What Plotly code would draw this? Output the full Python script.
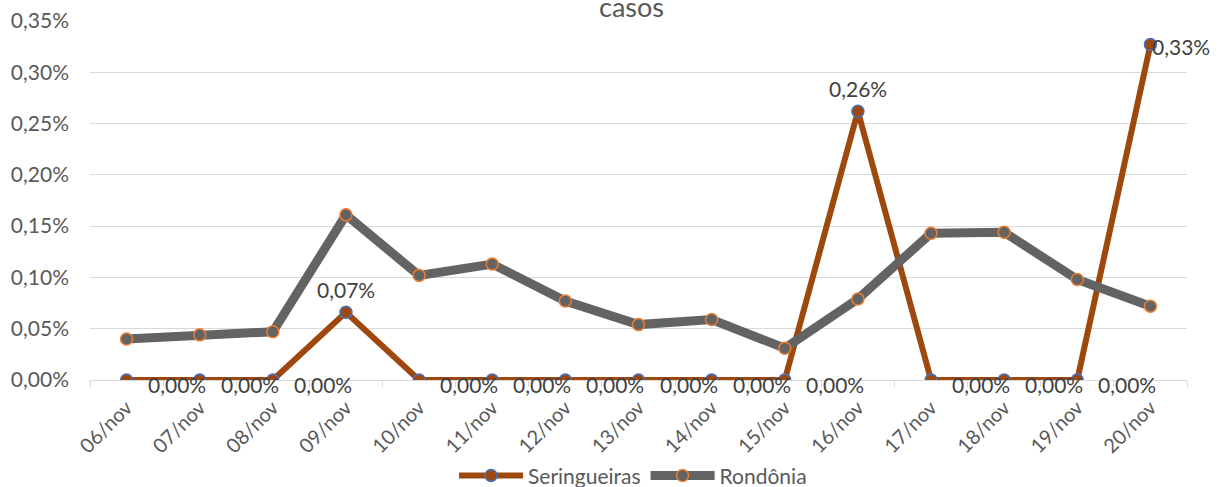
import plotly.graph_objects as go

categories = ["06/nov", "07/nov", "08/nov", "09/nov", "10/nov", "11/nov", "12/nov",
              "13/nov", "14/nov", "15/nov", "16/nov", "17/nov", "18/nov", "19/nov", "20/nov"]
seringueiras = [0.0, 0.0, 0.0, 0.00066, 0.0, 0.0, 0.0, 0.0, 0.0, 0.0, 0.00262, 0.0, 0.0, 0.0, 0.00327]
rondonia = [0.00040, 0.00044, 0.00047, 0.00161, 0.00102, 0.00113, 0.00077, 0.00054, 0.00059,
            0.00031, 0.00079, 0.00143, 0.00144, 0.00098, 0.00072]
y_ticks = [0.0, 0.0005, 0.001, 0.0015, 0.002, 0.0025, 0.003, 0.0035]

# label placement style for the Seringueiras series
label_pos = ["right", "right", "right", "above", "right", "right", "right", "right",
             "right", "right", "above", "right", "right", "right", "edge"]

FONT = "Lato"
fig = go.Figure()
fig.add_trace(go.Scatter(
    x=categories, y=seringueiras, name="Seringueiras", mode="lines+markers",
    line=dict(color="#9E480E", width=6),
    marker=dict(size=12, color="#9E480E", line=dict(color="#4472C4", width=1.5)),
))
fig.add_trace(go.Scatter(
    x=categories, y=rondonia, name="Rondônia", mode="lines+markers",
    line=dict(color="#636363", width=9),
    marker=dict(size=12, color="#636363", line=dict(color="#ED7D31", width=1.5)),
))

annotations = []
for c, v, p in zip(categories, seringueiras, label_pos):
    txt = ("%.2f%%" % (v * 100)).replace(".", ",")
    if p == "above":
        annotations.append(dict(x=c, y=v, text=txt, showarrow=False, xanchor="center",
                                yanchor="bottom", yshift=8,
                                font=dict(family=FONT, size=21, color="#404040")))
    elif p == "edge":
        annotations.append(dict(x=c, y=v, text=txt, showarrow=False, xanchor="left",
                                yanchor="middle", xshift=0, yshift=-2,
                                font=dict(family=FONT, size=21, color="#404040")))
    else:
        annotations.append(dict(x=c, y=v, text=txt, showarrow=False, xanchor="left",
                                yanchor="middle", xshift=19, yshift=-4,
                                font=dict(family=FONT, size=21, color="#404040")))

annotations.append(dict(xref="paper", yref="paper", x=0.494, y=1.0, xanchor="center",
                        yanchor="bottom", yshift=-4, text="casos", showarrow=False,
                        font=dict(family=FONT, size=27, color="#595959")))

fig.update_layout(
    width=1222, height=487,
    margin=dict(l=90, r=35, t=21, b=107, autoexpand=False),
    paper_bgcolor="white", plot_bgcolor="white",
    separators=",.",
    font=dict(family=FONT, size=21, color="#595959"),
    showlegend=True,
    legend=dict(orientation="h", x=0.495, xanchor="center", y=-0.267, yanchor="middle",
                font=dict(family=FONT, size=21, color="#595959"), itemwidth=64,
                tracegroupgap=0),
    annotations=annotations,
    xaxis=dict(type="category", showgrid=False, showline=True, linecolor="#D9D9D9",
               linewidth=1, ticks="outside", tickson="boundaries", ticklen=6,
               tickcolor="#D9D9D9", tickangle=-45, automargin=False, ticklabelstandoff=7,
               tickfont=dict(family=FONT, size=20, color="#595959"),
               range=[-0.5, 14.5]),
    yaxis=dict(range=[0, 0.0035], tickvals=y_ticks, tickformat=".2%", showgrid=True,
               gridcolor="#D9D9D9", gridwidth=1, zeroline=False, showline=False,
               ticks="", ticklabelstandoff=20, automargin=False,
               tickfont=dict(family=FONT, size=21, color="#595959")),
)

fig.write_html("out.html", config={"displayModeBar": False},
               post_script="document.body.style.margin='0';")
